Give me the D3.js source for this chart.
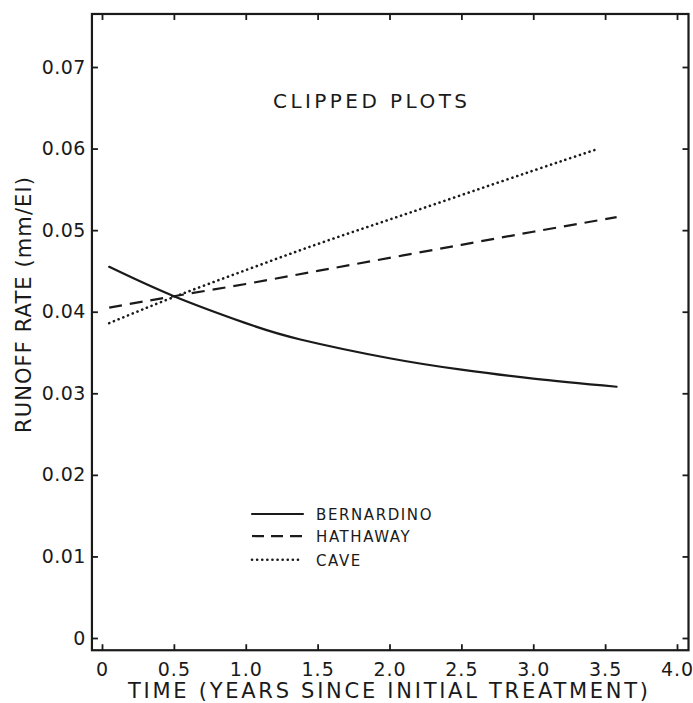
<!DOCTYPE html>
<html><head><meta charset="utf-8">
<script src="https://cdn.jsdelivr.net/npm/d3@7"></script>
<style>
html,body{margin:0;padding:0;background:#fff;}
text{font-family:"DejaVu Sans",sans-serif;fill:#1a1a1a;}
</style></head>
<body><svg id="c" width="693" height="703"></svg>
<script>
// ---- data ----
const xTicks = [0, 0.5, 1.0, 1.5, 2.0, 2.5, 3.0, 3.5, 4.0];
const xTickLabels = ["0", "0.5", "1.0", "1.5", "2.0", "2.5", "3.0", "3.5", "4.0"];
const yTicks = [0, 0.01, 0.02, 0.03, 0.04, 0.05, 0.06, 0.07];
const yTickLabels = ["0", "0.01", "0.02", "0.03", "0.04", "0.05", "0.06", "0.07"];
const seriesNames = ["BERNARDINO", "HATHAWAY", "CAVE"];
const bernardinoT = [0.05, 0.5, 1.0, 1.38, 2.0, 2.5, 3.0, 3.58];
const bernardinoV = [0.0455, 0.0419, 0.0386, 0.0366, 0.0343, 0.0329, 0.0318, 0.0308];
const hathawayT = [0.05, 0.5, 1.0, 1.5, 2.0, 2.5, 3.0, 3.58];
const hathawayV = [0.0405, 0.0419, 0.0434, 0.0450, 0.0466, 0.0482, 0.0498, 0.0516];
const caveT = [0.05, 0.5, 1.0, 1.5, 2.0, 2.5, 3.0, 3.44];
const caveV = [0.0386, 0.0418, 0.0451, 0.0483, 0.0513, 0.0543, 0.0573, 0.0599];
const panelTitle = "CLIPPED PLOTS";
const xTitle = "TIME (YEARS SINCE INITIAL TREATMENT)";
const yTitle = "RUNOFF RATE (mm/EI)";

(function () {
const svg = d3.select("#c");
const x = d3.scaleLinear().domain([0, 4]).range([102, 677]);
const y = d3.scaleLinear().domain([0, 0.07]).range([638, 67]);
const fL = x(-0.07), fR = x(4.08), fT = y(0.0765), fB = y(-0.0015);
const ink = "#1a1a1a";

// frame
svg.append("rect").attr("x", fL).attr("y", fT)
  .attr("width", fR - fL).attr("height", fB - fT)
  .attr("fill", "none").attr("stroke", ink).attr("stroke-width", 2.2);

function styleAxis(g) {
  g.select(".domain").remove();
  g.selectAll(".tick line").attr("stroke", ink).attr("stroke-width", 1.8);
  g.selectAll(".tick text").attr("fill", ink);
}

const xb = svg.append("g").attr("transform", `translate(0,${fB})`)
  .call(d3.axisBottom(x).tickValues(xTicks).tickSize(-6).tickPadding(12)
    .tickFormat((d, i) => xTickLabels[i]));
styleAxis(xb);
xb.selectAll(".tick text").style("font-size", "19px").style("letter-spacing", "1px")
  .style("font-family", "DejaVu Sans");

svg.append("g").attr("transform", `translate(0,${fT})`)
  .call(d3.axisTop(x).tickValues(xTicks).tickSize(-6).tickFormat(""))
  .call(styleAxis);

const yl = svg.append("g").attr("transform", `translate(${fL},0)`)
  .call(d3.axisLeft(y).tickValues(yTicks).tickSize(-6).tickPadding(6)
    .tickFormat((d, i) => yTickLabels[i]));
styleAxis(yl);
yl.selectAll(".tick text").style("font-size", "19px").style("letter-spacing", "0.5px")
  .style("font-family", "DejaVu Sans");

svg.append("g").attr("transform", `translate(${fR},0)`)
  .call(d3.axisRight(y).tickValues(yTicks).tickSize(-6).tickFormat(""))
  .call(styleAxis);

// series
const series = [
  {name: seriesNames[0], t: bernardinoT, v: bernardinoV, dash: null, cap: "round"},
  {name: seriesNames[1], t: hathawayT, v: hathawayV, dash: "13,8", cap: "butt"},
  {name: seriesNames[2], t: caveT, v: caveV, dash: "0.1,5", cap: "round"}
];
const line = d3.line().x(d => x(d[0])).y(d => y(d[1])).curve(d3.curveNatural);
series.forEach(s => {
  svg.append("path")
    .datum(s.t.map((t, i) => [t, s.v[i]]))
    .attr("d", line)
    .attr("fill", "none").attr("stroke", ink)
    .attr("stroke-width", s.name === "CAVE" ? 2.6 : 2.2)
    .attr("stroke-linecap", s.cap)
    .attr("stroke-dasharray", s.dash);
});

// legend
const legY = [0.0152, 0.0125, 0.0096];
series.forEach((s, i) => {
  const ly = y(legY[i]);
  svg.append("line").attr("x1", 252).attr("x2", 303).attr("y1", ly).attr("y2", ly)
    .attr("stroke", ink).attr("stroke-width", s.name === "CAVE" ? 2.6 : 2.2)
    .attr("stroke-linecap", s.cap)
    .attr("stroke-dasharray", s.name === "HATHAWAY" ? "12,7" : s.dash);
  svg.append("text").attr("x", 316).attr("y", ly + 6)
    .style("font-size", "15px").style("letter-spacing", "1.6px")
    .text(s.name);
});

// panel title
svg.append("text").attr("x", 273).attr("y", 108)
  .attr("textLength", 194).attr("lengthAdjust", "spacing")
  .style("font-size", "20px").text(panelTitle);

// axis titles
svg.append("text").attr("x", 128).attr("y", 698)
  .attr("textLength", 520).attr("lengthAdjust", "spacing")
  .style("font-size", "21px").text(xTitle);

svg.append("text").attr("transform", "translate(31,433) rotate(-90)")
  .attr("x", 0).attr("y", 0)
  .attr("textLength", 256).attr("lengthAdjust", "spacing")
  .style("font-size", "21px").text(yTitle);
})();
</script>
</body></html>
